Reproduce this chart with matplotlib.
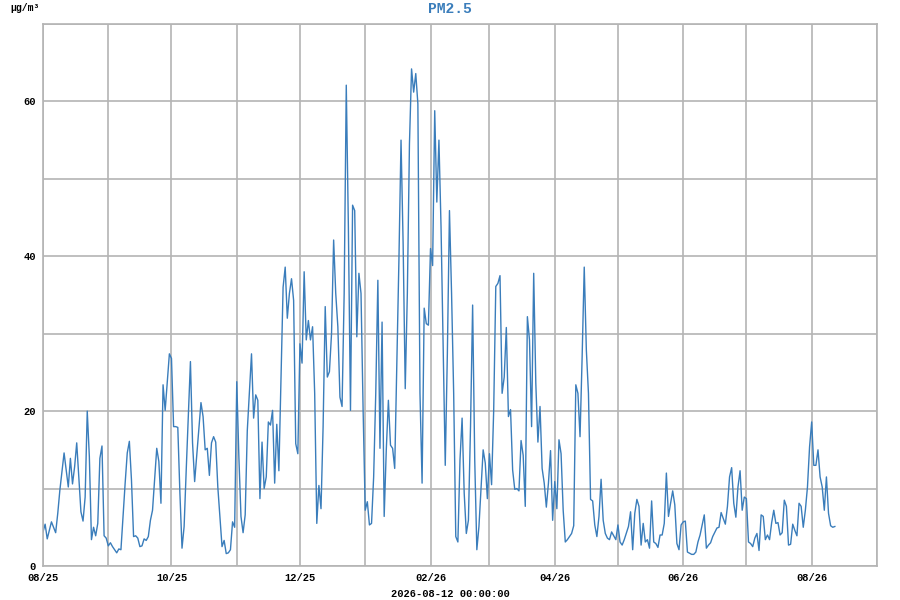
import numpy as np
import pandas as pd
import matplotlib
matplotlib.use("Agg")
import matplotlib.pyplot as plt
import matplotlib.dates as mdates
from matplotlib.ticker import MultipleLocator, FuncFormatter

START = "2025-08-01"
TITLE = "PM2.5"
UNIT = "µg/m³"
STAMP = "2026-08-12 00:00:00"

# day offsets from START and the PM2.5 value
days = [0, 1, 2, 4, 6, 7, 8, 10, 12, 13, 14, 15, 16, 18, 19, 20, 21, 22, 23, 24,
        25, 26, 27, 28, 29, 30, 31, 32, 33, 35, 36, 37, 38, 39, 40, 41, 42, 43, 44, 45,
        46, 47, 48, 49, 50, 51, 52, 54, 55, 56, 57, 58, 60, 61, 62, 63, 64, 65, 66, 67,
        68, 70, 71, 72, 75, 76, 77, 78, 79, 80, 81, 82, 83, 85, 86, 87, 88, 89, 90, 91,
        92, 93, 94, 95, 96, 97, 99, 100, 101, 102, 103, 104, 105, 106, 107, 108, 109, 110, 111, 112,
        113, 114, 115, 116, 117, 118, 119, 120, 121, 122, 123, 124, 125, 126, 127, 128, 129, 130, 131, 132,
        133, 134, 135, 136, 137, 138, 139, 140, 141, 142, 143, 144, 145, 146, 147, 148, 149, 150, 151, 152,
        153, 154, 155, 156, 157, 158, 159, 160, 161, 162, 163, 164, 165, 166, 167, 169, 170, 171, 172, 173,
        174, 175, 176, 177, 178, 179, 180, 181, 182, 183, 184, 185, 186, 187, 188, 189, 191, 192, 193, 194,
        195, 196, 197, 198, 199, 200, 201, 202, 203, 204, 205, 206, 207, 209, 210, 211, 212, 213, 214, 215,
        216, 217, 218, 219, 220, 221, 222, 223, 224, 225, 226, 227, 228, 229, 230, 231, 232, 233, 234, 235,
        236, 237, 238, 239, 240, 241, 242, 243, 244, 245, 246, 247, 248, 249, 251, 252, 253, 254, 255, 256,
        257, 258, 259, 260, 261, 262, 263, 264, 265, 266, 267, 268, 269, 270, 272, 273, 274, 275, 276, 278,
        279, 280, 281, 282, 283, 284, 285, 286, 287, 288, 289, 290, 291, 292, 293, 294, 295, 296, 297, 298,
        299, 300, 301, 302, 303, 304, 305, 306, 308, 309, 310, 311, 312, 314, 315, 316, 317, 318, 320, 321,
        322, 324, 325, 326, 327, 328, 329, 330, 331, 332, 333, 334, 335, 336, 337, 338, 339, 340, 341, 342,
        343, 344, 345, 346, 347, 348, 349, 350, 351, 352, 353, 354, 355, 356, 357, 358, 359, 360, 361, 362,
        363, 364, 365, 366, 367, 368, 369, 370, 371, 372, 373, 374, 375, 376]

pm25 = [4.4, 5.4, 3.5, 5.7, 4.3, 6.8, 9.8, 14.6, 10.2, 13.9, 10.6, 12.8, 15.9, 7.0, 5.8, 8.9, 20.0, 14.1, 3.4, 5.0,
        3.9, 5.5, 13.9, 15.5, 3.9, 3.6, 2.6, 3.0, 2.5, 1.7, 2.2, 2.1, 6.4, 10.7, 14.6, 16.1, 11.1, 3.8, 3.9, 3.6,
        2.5, 2.6, 3.5, 3.3, 3.8, 5.9, 7.2, 15.2, 13.5, 8.1, 23.4, 20.1, 27.4, 26.8, 18.0, 18.0, 17.9, 9.4, 2.3, 5.1,
        12.4, 26.4, 15.9, 10.9, 21.1, 19.3, 15.0, 15.2, 11.7, 15.9, 16.7, 16.0, 10.2, 2.5, 3.3, 1.6, 1.7, 2.1, 5.7, 5.0,
        23.8, 14.1, 6.4, 4.3, 6.6, 17.5, 27.4, 19.1, 22.1, 21.4, 8.7, 16.0, 10.0, 11.5, 18.6, 18.2, 20.1, 10.7, 18.3, 12.3,
        24.4, 36.0, 38.6, 32.0, 35.2, 37.1, 34.3, 15.8, 14.5, 28.7, 26.2, 38.0, 29.2, 31.7, 29.2, 30.9, 22.3, 5.5, 10.4, 7.4,
        18.0, 33.5, 24.4, 25.1, 30.0, 42.1, 35.2, 30.9, 21.8, 20.6, 35.2, 62.1, 43.8, 20.1, 46.6, 45.9, 29.6, 37.8, 35.2, 20.1,
        7.2, 8.3, 5.3, 5.5, 11.5, 22.3, 36.9, 15.2, 31.5, 6.4, 15.0, 21.4, 15.6, 15.2, 12.6, 39.5, 55.0, 41.6, 22.9, 35.2,
        54.5, 64.2, 61.2, 63.6, 59.7, 22.3, 10.7, 33.3, 31.3, 31.1, 41.0, 38.8, 58.8, 47.0, 55.0, 43.8, 13.0, 27.4, 45.9, 35.2,
        22.3, 3.8, 3.1, 13.7, 19.1, 9.4, 4.2, 5.9, 18.0, 33.7, 13.7, 2.1, 5.1, 15.0, 13.3, 8.7, 14.5, 10.5, 20.1, 36.1,
        36.5, 37.5, 22.3, 24.4, 30.8, 19.3, 20.2, 12.4, 9.9, 10.0, 9.7, 16.2, 14.3, 7.7, 32.2, 29.2, 18.0, 37.8, 23.6, 16.0,
        20.6, 12.6, 10.7, 7.6, 10.7, 14.9, 5.9, 10.9, 7.4, 16.3, 14.5, 7.2, 3.1, 3.4, 4.2, 5.2, 23.4, 22.3, 16.7, 27.0,
        38.6, 27.9, 22.3, 8.6, 8.4, 5.3, 3.8, 6.4, 11.2, 5.9, 4.2, 3.6, 3.4, 4.4, 3.4, 5.3, 3.1, 2.7, 3.4, 5.1,
        7.0, 2.1, 6.8, 8.6, 7.7, 2.7, 5.5, 3.1, 3.4, 2.3, 8.4, 3.1, 2.9, 2.4, 4.0, 4.0, 5.5, 12.0, 6.4, 8.1,
        9.7, 7.9, 2.9, 2.1, 5.3, 5.7, 5.8, 1.8, 1.5, 1.5, 1.8, 3.1, 4.0, 6.6, 2.3, 2.7, 3.0, 3.8, 4.9, 5.0,
        6.9, 5.4, 7.7, 11.5, 12.7, 8.1, 6.3, 10.2, 12.3, 7.2, 8.9, 8.7, 3.1, 2.9, 2.5, 3.6, 4.2, 2.0, 6.6, 6.4,
        3.4, 4.0, 3.4, 5.6, 7.2, 5.5, 5.6, 4.0, 4.3, 8.5, 7.7, 2.7, 2.8, 5.4, 4.6, 3.9, 8.1, 7.7, 5.0, 7.2,
        10.2, 15.4, 18.6, 13.0, 13.0, 15.0, 11.5, 10.2, 7.2, 11.5, 6.8, 5.2, 5.0, 5.1]

dates = pd.Timestamp(START) + pd.to_timedelta(days, unit="D")

plt.rcParams["font.family"] = ["Liberation Mono", "DejaVu Sans Mono"]

fig = plt.figure(figsize=(9, 6), dpi=100)
ax = fig.add_axes([0.0478, 0.0567, 0.9266, 0.9033])

ax.plot(dates, pm25, color="#3a7dbb", linewidth=1.0)

ax.set_xlim(pd.Timestamp("2025-08-01"), pd.Timestamp("2026-09-01"))
ax.set_ylim(0, 70)

ax.yaxis.set_major_locator(MultipleLocator(10))
ax.yaxis.set_major_formatter(FuncFormatter(lambda v, p: f"{v:.0f}" if round(v) % 20 == 0 else ""))

ax.xaxis.set_major_locator(mdates.MonthLocator())


def month_fmt(x, pos):
    d = mdates.num2date(x)
    return d.strftime("%m/%y") if d.month % 2 == 0 else ""


ax.xaxis.set_major_formatter(FuncFormatter(month_fmt))

ax.grid(True, color="#b4b4b4", linewidth=1.2)
ax.set_axisbelow(True)
for s in ax.spines.values():
    s.set_color("#b4b4b4")
    s.set_linewidth(1.2)
ax.tick_params(length=0, labelsize=7.5, pad=5)
for lab in ax.get_xticklabels() + ax.get_yticklabels():
    lab.set_fontweight("bold")

fig.text(0.5, 0.985, TITLE, ha="center", va="center", color="#3a7dbb",
         fontsize=10.5, fontweight="bold")
fig.text(0.011, 0.986, UNIT, ha="left", va="center", fontsize=7, fontweight="bold")
fig.text(0.5, 0.01, STAMP, ha="center", va="center", fontsize=7.5, fontweight="bold")

fig.savefig("out.png", dpi=100)
